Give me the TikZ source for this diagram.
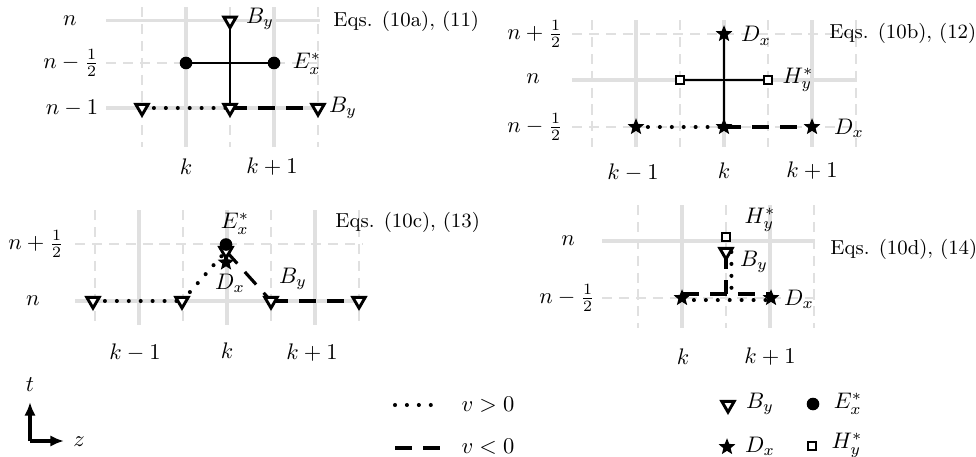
\documentclass[tikz,border=0pt]{standalone}
\usetikzlibrary{shapes.geometric,arrows.meta}
\pgfdeclarelayer{gridlayer}
\pgfdeclarelayer{linelayer}
\pgfsetlayers{gridlayer,linelayer,main}
\begin{document}
\begin{tikzpicture}[x=0.4444pt,y=-0.4444pt,
  gs/.style={draw=black!12,line width=1.4pt},
  gd/.style={draw=black!12,line width=0.9pt,dash pattern=on 4.5pt off 3pt},
  vposline/.style={line width=1.8pt,dash pattern=on 0pt off 5.3pt,line cap=round},
  vnegline/.style={line width=1.4pt,dash pattern=on 7.5pt off 5pt},
  linkline/.style={line width=1pt},
  axisline/.style={line width=1.4pt,-{Latex[length=6pt,width=5pt]}},
  bmk/.style={regular polygon,regular polygon sides=3,shape border rotate=180,draw,fill=white,line width=1.3pt,inner sep=0pt,outer sep=0pt,minimum size=6.3pt},
  emk/.style={circle,fill=black,inner sep=0pt,outer sep=0pt,minimum size=5.6pt},
  dmk/.style={star,star points=5,star point ratio=2.3,fill=black,inner sep=0pt,outer sep=0pt,minimum size=7.8pt},
  hmk/.style={rectangle,draw,fill=white,line width=1.2pt,inner sep=0pt,outer sep=0pt,minimum size=3.6pt},
  lbl/.style={inner sep=0pt},
  eqlbl/.style={font=\small,anchor=west,inner sep=0pt}
]
\useasboundingbox (0,0) rectangle (976,457);

% ---------------- grids ----------------
\begin{pgfonlayer}{gridlayer}
% panel A
\foreach \x in {186,274} \draw[gs] (\x,7) -- (\x,147);
\foreach \x in {142,230,318} \draw[gd] (\x,7) -- (\x,147);
\foreach \y in {20.7,108} \draw[gs] (106,\y) -- (320,\y);
\draw[gd] (106,63) -- (320,63);
% panel B
\foreach \x in {636,724,812} \draw[gs] (\x,20) -- (\x,147);
\foreach \x in {592,680,768,856} \draw[gd] (\x,20) -- (\x,147);
\draw[gs] (572,80) -- (857,80);
\foreach \y in {34,127} \draw[gd] (572,\y) -- (857,\y);
% panel C
\foreach \x in {139,227,315} \draw[gs] (\x,210) -- (\x,325);
\foreach \x in {95,183,271,359} \draw[gd] (\x,210) -- (\x,325);
\draw[gs] (75,301) -- (363,301);
\draw[gd] (75,244) -- (363,244);
% panel D
\foreach \x in {682,770} \draw[gs] (\x,205) -- (\x,328);
\foreach \x in {638,726,814} \draw[gd] (\x,205) -- (\x,328);
\draw[gs] (602,241) -- (815,241);
\draw[gd] (602,298) -- (815,298);
\end{pgfonlayer}

% ---------------- panel A ----------------
\node[bmk] (a1) at (230,20.7) {};
\node[emk] (a2) at (186,63) {};
\node[emk] (a3) at (274,63) {};
\node[bmk] (a4) at (142,108) {};
\node[bmk] (a5) at (230,108) {};
\node[bmk] (a6) at (318,108) {};
\begin{pgfonlayer}{linelayer}
\draw[linkline] (a1.center) -- (a5.center);
\draw[linkline] (a2.center) -- (a3.center);
\draw[vposline] (a4.center) -- (a5.center);
\draw[vnegline] (a5.center) -- (a6.center);
\end{pgfonlayer}
\node[lbl] (an1) at (70,20.7) {$n$};
\node[lbl] (an2) at (71,63) {$n-\frac{1}{2}$};
\node[lbl] (an3) at (72,108) {$n-1$};
\node[lbl] (ak1) at (186,167) {$k$};
\node[lbl] (ak2) at (272,167) {$k+1$};
\node[lbl] (aB1) at (260,19) {$B_y$};
\node[lbl] (aE) at (307,64) {$E_x^*$};
\node[lbl] (aB2) at (343,108) {$B_y$};
\node[eqlbl] (aeq) at (333,21) {Eqs. (10a), (11)};

% ---------------- panel B ----------------
\node[dmk] (b1) at (724,34) {};
\node[hmk] (b2) at (680,80) {};
\node[hmk] (b3) at (768,80) {};
\node[dmk] (b4) at (636,127) {};
\node[dmk] (b5) at (724,127) {};
\node[dmk] (b6) at (812,127) {};
\begin{pgfonlayer}{linelayer}
\draw[linkline] (b1.center) -- (b5.center);
\draw[linkline] (b2.center) -- (b3.center);
\draw[vposline] (b4.center) -- (b5.center);
\draw[vnegline] (b5.center) -- (b6.center);
\end{pgfonlayer}
\node[lbl] (bn1) at (535,34) {$n+\frac{1}{2}$};
\node[lbl] (bn2) at (533,79) {$n$};
\node[lbl] (bn3) at (535,127) {$n-\frac{1}{2}$};
\node[lbl] (bk1) at (633,173) {$k-1$};
\node[lbl] (bk2) at (724,171) {$k$};
\node[lbl] (bk3) at (812,171) {$k+1$};
\node[lbl] (bD1) at (756,36) {$D_x$};
\node[lbl] (bH) at (798,80) {$H_y^*$};
\node[lbl] (bD2) at (849,128) {$D_x$};
\node[eqlbl] (beq) at (829,33) {Eqs. (10b), (12)};

% ---------------- panel C ----------------
\node[bmk] (c1) at (93,301) {};
\node[bmk] (c2) at (182,301) {};
\node[bmk] (c3) at (271,301) {};
\node[bmk] (c4) at (359,301) {};
\node[bmk] (c5) at (226,251) {};
\node[emk] (c6) at (226,244.5) {};
\node[dmk] (c7) at (226,262.5) {};
\begin{pgfonlayer}{linelayer}
\draw[vposline] (c1.center) -- (c2.center);
\draw[vposline] (c2.center) -- (c5.center);
\draw[vnegline] (c5.center) -- (c3.center);
\draw[vnegline] (c3.center) -- (c4.center);
\end{pgfonlayer}
\node[lbl] (cn1) at (36,244) {$n+\frac{1}{2}$};
\node[lbl] (cn2) at (33,301) {$n$};
\node[lbl] (ck1) at (135,353) {$k-1$};
\node[lbl] (ck2) at (227,351) {$k$};
\node[lbl] (ck3) at (312,353) {$k+1$};
\node[lbl] (cE) at (235,224) {$E_x^*$};
\node[lbl] (cD) at (230,283) {$D_x$};
\node[lbl] (cB) at (293,279) {$B_y$};
\node[eqlbl] (ceq) at (335,222) {Eqs. (10c), (13)};

% ---------------- panel D ----------------
\node[hmk] (d1) at (726,237) {};
\node[bmk] (d2) at (726,252) {};
\node[dmk] (d3) at (682,298) {};
\node[dmk] (d4) at (771,298) {};
\coordinate (d5) at (726,294);
\coordinate (d6) at (731.5,299);
\begin{pgfonlayer}{linelayer}
\draw[vnegline] (d2.center) -- (d5);
\draw[vposline] ([xshift=2.4pt]d2.center) -- (d6);
\draw[vnegline] ([yshift=1.8pt]d3.center) -- ([yshift=1.8pt]d4.center);
\draw[vposline] ([yshift=-0.9pt]d3.center) -- ([yshift=-0.9pt]d4.center);
\end{pgfonlayer}
\node[lbl] (dn1) at (568,241) {$n$};
\node[lbl] (dn2) at (567,298) {$n-\frac{1}{2}$};
\node[lbl] (dk1) at (683,357) {$k$};
\node[lbl] (dk2) at (770,357) {$k+1$};
\node[lbl] (dH) at (760,220) {$H_y^*$};
\node[lbl] (dB) at (754,262) {$B_y$};
\node[lbl] (dD) at (799,299) {$D_x$};
\node[eqlbl] (deq) at (830,249) {Eqs. (10d), (14)};

% ---------------- legend ----------------
\coordinate (ax0) at (30,441);
\coordinate (axt) at (30,402);
\coordinate (axz) at (64,441);
\draw[axisline] (ax0) -- (axt);
\draw[axisline] (ax0) -- (axz);
\node[lbl] (lt) at (30,385) {$t$};
\node[lbl] (lz) at (79,442) {$z$};

\coordinate (p1) at (395,405);
\coordinate (p2) at (442,405);
\coordinate (q1) at (395,448);
\coordinate (q2) at (442,448);
\draw[vposline] (p1) -- (p2);
\draw[vnegline] (q1) -- (q2);
\node[lbl] (lv1) at (488,405) {$v>0$};
\node[lbl] (lv2) at (488,447) {$v<0$};

\node[bmk] (m1) at (728,405) {};
\node[lbl] (m1l) at (760,404) {$B_y$};
\node[emk] (m2) at (813,404) {};
\node[lbl] (m2l) at (848,404) {$E_x^*$};
\node[dmk] (m3) at (727,447) {};
\node[lbl] (m3l) at (760,446) {$D_x$};
\node[hmk] (m4) at (812,446) {};
\node[lbl] (m4l) at (847,445) {$H_y^*$};
\end{tikzpicture}
\end{document}
